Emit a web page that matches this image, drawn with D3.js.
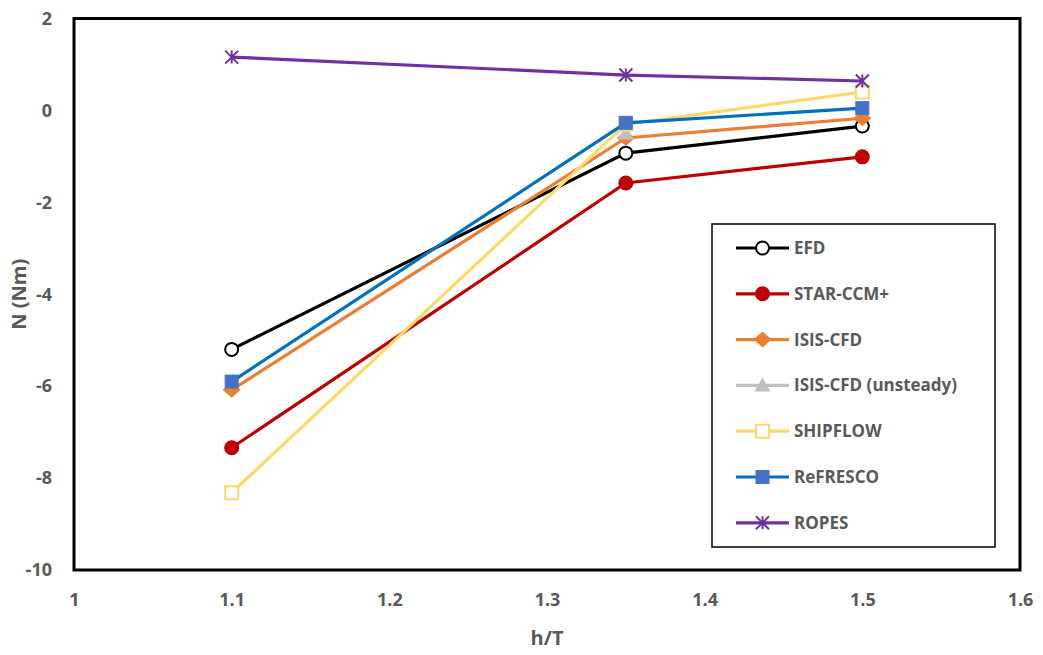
<!DOCTYPE html>
<html>
<head>
<meta charset="utf-8">
<script src="https://cdn.jsdelivr.net/npm/d3@7"></script>
<style>
  body { margin: 0; background: #fff; }
  text { font-family: "Open Sans", "Noto Sans", sans-serif; font-weight: bold; fill: #595959; }
</style>
</head>
<body>
<svg id="mysvg" width="1043" height="655"></svg>
<script>
// h/T values
var xVals = [1.1, 1.35, 1.5];

var efd      = [-5.2, -0.93, -0.34];
var starccm  = [-7.34, -1.58, -1.01];
var isis     = [-6.08, -0.6, -0.17];
var isisUns  = [null, -0.5, null];
var shipflow = [-8.32, -0.3, 0.4];
var refresco = [-5.9, -0.27, 0.05];
var ropes    = [1.16, 0.77, 0.64];

var xTicks = [1, 1.1, 1.2, 1.3, 1.4, 1.5, 1.6];
var yTicks = [2, 0, -2, -4, -6, -8, -10];

var series = [
  {name: "EFD", vals: efd, line: "#000000", fill: "#ffffff", stroke: "#000000", shape: "circle"},
  {name: "STAR-CCM+", vals: starccm, line: "#C00000", fill: "#C00000", stroke: "#C00000", shape: "circle"},
  {name: "ISIS-CFD", vals: isis, line: "#ED7D31", fill: "#ED7D31", stroke: "#ED7D31", shape: "diamond"},
  {name: "ISIS-CFD (unsteady)", vals: isisUns, line: "#BFBFBF", fill: "#BFBFBF", stroke: "#BFBFBF", shape: "triangle"},
  {name: "SHIPFLOW", vals: shipflow, line: "#FFD966", fill: "#ffffff", stroke: "#FFD966", shape: "square"},
  {name: "ReFRESCO", vals: refresco, line: "#0070C0", fill: "#4472C4", stroke: "#4472C4", shape: "square"},
  {name: "ROPES", vals: ropes, line: "#7030A0", fill: "none", stroke: "#7030A0", shape: "star"}
];

var svg = d3.select("#mysvg");
var pLeft = 74, pRight = 1020, pTop = 18.5, pBottom = 570;

var x = d3.scaleLinear().domain([1, 1.6]).range([pLeft, pRight]);
var y = d3.scaleLinear().domain([-10, 2]).range([pBottom, pTop]);

// frame
svg.append("rect")
  .attr("x", pLeft).attr("y", pTop)
  .attr("width", pRight - pLeft).attr("height", pBottom - pTop)
  .attr("fill", "none").attr("stroke", "#000").attr("stroke-width", 3);

// y ticks
var yAxis = svg.append("g")
  .attr("transform", "translate(" + pLeft + ",0)")
  .call(d3.axisLeft(y).tickValues(yTicks).tickSize(0).tickPadding(22).tickFormat(function(d) { return String(d); }));
yAxis.select(".domain").remove();
yAxis.selectAll("text").style("font-size", "18px").attr("fill", "#595959");

// x ticks
var xAxis = svg.append("g")
  .attr("transform", "translate(0," + pBottom + ")")
  .call(d3.axisBottom(x).tickValues(xTicks).tickSize(0).tickPadding(23).tickFormat(function(d) { return d === 1 ? "1" : d3.format(".1f")(d); }));
xAxis.select(".domain").remove();
xAxis.selectAll("text").style("font-size", "18px").attr("fill", "#595959");

// axis titles
svg.append("text")
  .attr("text-anchor", "middle")
  .attr("transform", "translate(26," + ((pTop + pBottom) / 2) + ")rotate(-90)")
  .style("font-size", "20px")
  .text("N (Nm)");

svg.append("text")
  .attr("text-anchor", "middle")
  .attr("x", (pLeft + pRight) / 2).attr("y", 645)
  .style("font-size", "20px")
  .text("h/T");

function drawMarker(g, shape, cx, cy, s) {
  if (shape === "circle") {
    g.append("circle").attr("cx", cx).attr("cy", cy).attr("r", 6.5)
      .attr("fill", s.fill).attr("stroke", s.stroke).attr("stroke-width", 2);
  } else if (shape === "square") {
    g.append("rect").attr("x", cx - 6.5).attr("y", cy - 6.5).attr("width", 13).attr("height", 13)
      .attr("fill", s.fill).attr("stroke", s.stroke).attr("stroke-width", s.fill === "#ffffff" ? 2 : 1);
  } else if (shape === "diamond") {
    g.append("path").attr("d", "M" + cx + "," + (cy - 8) + "L" + (cx + 9) + "," + cy + "L" + cx + "," + (cy + 8) + "L" + (cx - 9) + "," + cy + "Z")
      .attr("fill", s.fill);
  } else if (shape === "triangle") {
    g.append("path").attr("d", "M" + cx + "," + (cy - 8) + "L" + (cx + 8) + "," + (cy + 6) + "L" + (cx - 8) + "," + (cy + 6) + "Z")
      .attr("fill", s.fill);
  } else if (shape === "star") {
    var r = 6.5;
    g.append("path")
      .attr("d", "M" + (cx - r) + "," + (cy - r) + "L" + (cx + r) + "," + (cy + r) +
                 "M" + (cx + r) + "," + (cy - r) + "L" + (cx - r) + "," + (cy + r) +
                 "M" + cx + "," + (cy - r) + "L" + cx + "," + (cy + r))
      .attr("stroke", s.stroke).attr("stroke-width", 2).attr("fill", "none");
  }
}

var line = d3.line()
  .defined(function(d) { return d.v !== null; })
  .x(function(d) { return x(d.x); })
  .y(function(d) { return y(d.v); });

series.forEach(function(s) {
  var pts = xVals.map(function(xv, i) { return {x: xv, v: s.vals[i]}; });
  var g = svg.append("g");
  g.append("path").datum(pts)
    .attr("d", line)
    .attr("fill", "none")
    .attr("stroke", s.line)
    .attr("stroke-width", 3.2);
  pts.forEach(function(p) {
    if (p.v !== null) drawMarker(g, s.shape, x(p.x), y(p.v), s);
  });
});

// legend
var lg = svg.append("g");
lg.append("rect")
  .attr("x", 712).attr("y", 224).attr("width", 283).attr("height", 323)
  .attr("fill", "#fff").attr("stroke", "#000").attr("stroke-width", 1.5);

series.forEach(function(s, i) {
  var ly = 248 + i * 45.8;
  var g = lg.append("g");
  g.append("line").attr("x1", 736).attr("x2", 789).attr("y1", ly).attr("y2", ly)
    .attr("stroke", s.line).attr("stroke-width", 3.2);
  drawMarker(g, s.shape, 762.5, ly, s);
  g.append("text").attr("x", 794).attr("y", ly).attr("dy", "0.35em")
    .style("font-size", "17px")
    .text(s.name);
});
</script>
</body>
</html>
